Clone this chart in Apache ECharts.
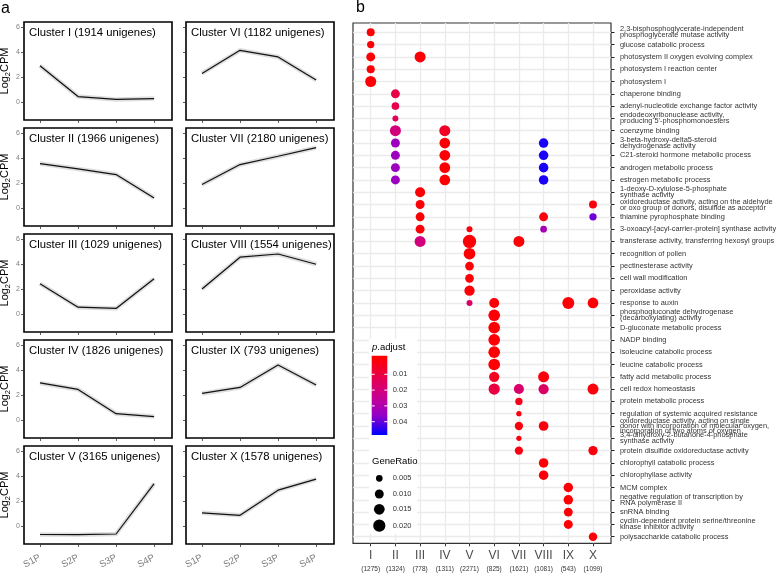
<!DOCTYPE html>
<html><head><meta charset="utf-8">
<script src="https://cdn.jsdelivr.net/npm/echarts@6/dist/echarts.min.js"></script>
<style>html,body{margin:0;padding:0;background:#fff}#c{width:779px;height:574px}</style>
</head><body><div id="c"></div>
<script>
// ---------- data: panel a ----------
const clusterNames = ['I','II','III','IV','V','VI','VII','VIII','IX','X'];
const clusterUnigenes = [1914,1966,1029,1826,3165,1182,2180,1554,793,1578];
const timePoints = ['S1P','S2P','S3P','S4P'];
const exprI    = [2.90, 0.43, 0.20, 0.27];
const exprII   = [3.55, 3.12, 2.67, 0.80];
const exprIII  = [2.42, 0.54, 0.44, 2.82];
const exprIV   = [2.96, 2.44, 0.50, 0.27];
const exprV    = [-0.69, -0.70, -0.65, 3.38];
const exprVI   = [2.28, 4.13, 3.60, 1.75];
const exprVII  = [1.88, 3.47, 4.14, 4.83];
const exprVIII = [2.00, 4.54, 4.80, 3.98];
const exprIX   = [2.12, 2.60, 4.40, 2.80];
const exprX    = [1.05, 0.85, 2.86, 3.75];
const yTickValues = [0, 2, 4, 6];

// ---------- data: panel b ----------
const enrichCounts = [1275,1324,778,1311,2271,825,1621,1081,543,1099];
const goTerms = [
 '2,3-bisphosphoglycerate-independent\nphosphoglycerate mutase activity',
 'glucose catabolic process',
 'photosystem II oxygen evolving complex',
 'photosystem I reaction center',
 'photosystem I',
 'chaperone binding',
 'adenyl-nucleotide exchange factor activity',
 "endodeoxyribonuclease activity,\nproducing 5'-phosphomonoesters",
 'coenzyme binding',
 '3-beta-hydroxy-delta5-steroid\ndehydrogenase activity',
 'C21-steroid hormone metabolic process',
 'androgen metabolic process',
 'estrogen metabolic process',
 '1-deoxy-D-xylulose-5-phosphate\nsynthase activity',
 'oxidoreductase activity, acting on the aldehyde\nor oxo group of donors, disulfide as acceptor',
 'thiamine pyrophosphate binding',
 '3-oxoacyl-[acyl-carrier-protein] synthase activity',
 'transferase activity, transferring hexosyl groups',
 'recognition of pollen',
 'pectinesterase activity',
 'cell wall modification',
 'peroxidase activity',
 'response to auxin',
 'phosphogluconate dehydrogenase\n(decarboxylating) activity',
 'D-gluconate metabolic process',
 'NADP binding',
 'isoleucine catabolic process',
 'leucine catabolic process',
 'fatty acid metabolic process',
 'cell redox homeostasis',
 'protein metabolic process',
 'regulation of systemic acquired resistance',
 'oxidoreductase activity, acting on single\ndonor with incorporation of molecular oxygen,\nincorporation of two atoms of oxygen',
 '3,4-dihydroxy-2-butanone-4-phosphate\nsynthase activity',
 'protein disulfide oxidoreductase activity',
 'chlorophyll catabolic process',
 'chlorophyllase activity',
 'MCM complex',
 'negative regulation of transcription by\nRNA polymerase II',
 'snRNA binding',
 'cyclin-dependent protein serine/threonine\nkinase inhibitor activity',
 'polysaccharide catabolic process'
];
const dotRow = [0,1,2,2,3,4,5,6,7,8,8,9,9,9,10,10,10,11,11,11,12,12,12,13,14,14,15,15,15,16,16,16,17,17,17,18,19,20,21,22,22,22,22,23,24,25,26,27,28,28,29,29,29,29,30,31,32,32,33,34,34,35,36,37,38,39,40,41];
const dotCluster = [0,0,0,2,0,0,1,1,1,1,3,1,3,7,1,3,7,1,3,7,1,3,7,2,2,9,2,7,9,2,4,7,2,4,6,4,4,4,4,4,5,8,9,5,5,5,5,5,5,7,5,6,7,9,6,6,6,7,6,6,9,7,7,8,8,8,8,9];
const dotGeneRatio = [0.0077,0.0062,0.0100,0.0159,0.0080,0.0159,0.0100,0.0070,0.0037,0.0159,0.0159,0.0100,0.0150,0.0115,0.0100,0.0150,0.0115,0.0100,0.0150,0.0115,0.0100,0.0150,0.0115,0.0129,0.0100,0.0077,0.0100,0.0100,0.0062,0.0100,0.0037,0.0050,0.0159,0.0240,0.0159,0.0180,0.0094,0.0094,0.0137,0.0037,0.0129,0.0191,0.0150,0.0180,0.0180,0.0180,0.0180,0.0180,0.0137,0.0159,0.0168,0.0129,0.0137,0.0159,0.0062,0.0026,0.0084,0.0120,0.0026,0.0084,0.0110,0.0115,0.0115,0.0115,0.0115,0.0100,0.0100,0.0090];
const dotPadj = [0.001,0.001,0.001,0.001,0.001,0.001,0.011,0.012,0.014,0.020,0.006,0.034,0.001,0.046,0.034,0.001,0.046,0.034,0.001,0.046,0.034,0.001,0.046,0.001,0.001,0.002,0.001,0.002,0.039,0.001,0.002,0.032,0.020,0.001,0.001,0.001,0.001,0.001,0.001,0.017,0.001,0.001,0.001,0.001,0.001,0.001,0.001,0.001,0.005,0.002,0.010,0.017,0.016,0.002,0.004,0.002,0.002,0.002,0.002,0.003,0.002,0.001,0.001,0.001,0.001,0.001,0.001,0.001];
const padjTicks = [0.01, 0.02, 0.03, 0.04];
const ratioTicks = [0.005, 0.010, 0.015, 0.020];

// ---------- layout / style ----------
const FONT = '"Liberation Sans", Arial, sans-serif';
const exprAll = [exprI,exprII,exprIII,exprIV,exprV,exprVI,exprVII,exprVIII,exprIX,exprX];
const colX = [24, 186], rowY = [22, 128, 234, 340, 446], PW = 148, PH = 98;
const padjColors = ['#ff0000','#e6004d','#c80090','#9400c8','#0000ff'];
const padjMax = 0.048;
const sizeOf = r => Math.sqrt(10 + 7000 * r);

const grids = [], xAxes = [], yAxes = [], series = [], graphics = [];
for (let k = 0; k < 10; k++) {
  const col = k < 5 ? 0 : 1, row = k % 5;
  const left = colX[col], top = rowY[row];
  grids.push({left, top, width: PW, height: PH, show: true, borderColor: '#000', borderWidth: 1.6,
    backgroundColor: '#fff', outerBoundsMode: 'none'});
  xAxes.push({gridIndex: k, type: 'value', min: 0.58, max: 4.47,
    axisLine: {show: false, onZero: false}, splitLine: {show: false},
    axisTick: {show: true, length: 3, lineStyle: {color: '#333', width: 0.8}, customValues: [1,2,3,4]},
    axisLabel: {show: row === 4, customValues: [1,2,3,4], formatter: v => timePoints[v - 1],
      rotate: 28, margin: 13, color: '#7f7f7f', fontSize: 9.5, fontFamily: FONT}});
  yAxes.push({gridIndex: k, type: 'value', min: -1.45, max: 6.4,
    axisLine: {show: false, onZero: false}, splitLine: {show: false},
    axisTick: {show: true, length: 3, lineStyle: {color: '#333', width: 0.8}, customValues: yTickValues},
    axisLabel: {show: col === 0, customValues: yTickValues, color: '#7f7f7f', fontSize: 7, margin: 4, fontFamily: FONT},
    name: col === 0 ? '{a|Log}{s|2}{a|CPM}' : '', nameLocation: 'middle', nameRotate: 90, nameGap: 12,
    nameTextStyle: {rich: {a: {fontSize: 11, fontFamily: FONT, color: '#000', lineHeight: 12},
      s: {fontSize: 7.5, fontFamily: FONT, color: '#000', lineHeight: 12, padding: [7, 0, 0, 0]}}}});
  const pts = exprAll[k].map((v, i) => [i + 1, v]);
  series.push({type: 'line', xAxisIndex: k, yAxisIndex: k, data: pts, showSymbol: false, silent: true,
    lineStyle: {color: 'rgba(0,0,0,0.13)', width: 4.5}, z: 2});
  series.push({type: 'line', xAxisIndex: k, yAxisIndex: k, data: pts, showSymbol: false, silent: true,
    lineStyle: {color: '#111', width: 1.2}, z: 3});
  graphics.push({type: 'text', x: left + 5, y: top + 10.5, z: 100,
    style: {text: 'Cluster ' + clusterNames[k] + ' (' + clusterUnigenes[k] + ' unigenes)',
      font: '11.3px ' + FONT, fill: '#000', verticalAlign: 'middle'}});
}

// dot plot
const DB = {left: 353, top: 23, right: 611, bottom: 543.3};
grids.push({left: DB.left, top: DB.top, width: DB.right - DB.left, height: DB.bottom - DB.top,
  show: true, borderColor: '#333', borderWidth: 1.2, backgroundColor: '#fff', outerBoundsMode: 'none'});
const colIdx = clusterNames.map((_, i) => i);
const rowIdx = goTerms.map((_, i) => i);
xAxes.push({gridIndex: 10, type: 'value', min: -0.717, max: 9.729, position: 'bottom',
  axisLine: {show: false, onZero: false},
  splitLine: {show: true, lineStyle: {color: '#ebebeb', width: 1.3}},
  axisTick: {show: true, length: 3, lineStyle: {color: '#333'}, customValues: colIdx},
  axisLabel: {customValues: colIdx, margin: 4,
    formatter: v => '{a|' + clusterNames[v] + '}\n{b|(' + enrichCounts[v] + ')}',
    rich: {a: {fontSize: 12, color: '#4d4d4d', fontFamily: FONT, lineHeight: 16},
           b: {fontSize: 6.5, color: '#333', fontFamily: FONT, lineHeight: 12}}}});
yAxes.push({gridIndex: 10, type: 'value', inverse: true, min: -0.756, max: 41.536, position: 'right',
  axisLine: {show: false, onZero: false},
  splitLine: {show: true, lineStyle: {color: '#ebebeb', width: 1.3}},
  axisTick: {show: true, length: 3.5, lineStyle: {color: '#222'}, customValues: rowIdx},
  axisLabel: {customValues: rowIdx, margin: 9, color: '#333', fontSize: 7.4, fontFamily: FONT, lineHeight: 6,
    formatter: v => {
      const t = goTerms[v];
      return t.split('\n').length > 2 ? '{t3|' + t.replace(/\n/g, '}\n{t3|') + '}' : t;
    },
    rich: {t3: {fontSize: 7.4, color: '#333', fontFamily: FONT, lineHeight: 4.8}}}});
series.push({type: 'scatter', xAxisIndex: 10, yAxisIndex: 10, silent: true, z: 5,
  data: dotRow.map((r, i) => [dotCluster[i], r, dotGeneRatio[i], dotPadj[i]]),
  symbolSize: v => sizeOf(v[2]), itemStyle: {opacity: 1}});

// legends (panel b)
const LX = 371.7, LW = 15.6, LT = 355.7, LB = 435, y0 = 358.5, perUnit = 1580;
graphics.push({type: 'rect', z: 90, shape: {x: 369, y: 339, width: 48, height: 195}, style: {fill: '#fff'}});
graphics.push({type: 'text', x: 372, y: 347, z: 100, style: {text: '{i|p}.adjust', font: '9.5px ' + FONT, fill: '#000',
  verticalAlign: 'middle', rich: {i: {fontStyle: 'italic', fontSize: 9.5, fontFamily: FONT}}}});
graphics.push({type: 'rect', z: 100, shape: {x: LX, y: LT, width: LW, height: LB - LT},
  style: {fill: new echarts.graphic.LinearGradient(0, 0, 0, 1,
    padjColors.map((c, i) => ({offset: (y0 + perUnit * padjMax * i / 4 - LT) / (LB - LT), color: c})))}});
padjTicks.forEach(p => {
  const y = y0 + perUnit * p;
  graphics.push({type: 'line', z: 101, shape: {x1: LX, y1: y, x2: LX + 3, y2: y}, style: {stroke: '#fff', lineWidth: 1}});
  graphics.push({type: 'line', z: 101, shape: {x1: LX + LW - 3, y1: y, x2: LX + LW, y2: y}, style: {stroke: '#fff', lineWidth: 1}});
  graphics.push({type: 'text', z: 100, x: 392.7, y: y, style: {text: p.toFixed(2), font: '7.5px ' + FONT, fill: '#333', verticalAlign: 'middle'}});
});
graphics.push({type: 'text', z: 100, x: 372, y: 461, style: {text: 'GeneRatio', font: '9.5px ' + FONT, fill: '#000', verticalAlign: 'middle'}});
const ratioY = [478.3, 494, 509.3, 525.7];
ratioTicks.forEach((r, i) => {
  graphics.push({type: 'circle', z: 100, shape: {cx: 379.3, cy: ratioY[i], r: sizeOf(r) / 2}, style: {fill: '#000'}});
  graphics.push({type: 'text', z: 100, x: 392.7, y: ratioY[i], style: {text: r.toFixed(3), font: '7.5px ' + FONT, fill: '#333', verticalAlign: 'middle'}});
});
graphics.push({type: 'text', z: 100, x: 1, y: 9, style: {text: 'a', font: '16px ' + FONT, fill: '#000', verticalAlign: 'middle'}});
graphics.push({type: 'text', z: 100, x: 356, y: 8, style: {text: 'b', font: '16px ' + FONT, fill: '#000', verticalAlign: 'middle'}});

const chart = echarts.init(document.getElementById('c'), null, {renderer: 'canvas'});
chart.setOption({
  animation: false,
  backgroundColor: '#fff',
  grid: grids, xAxis: xAxes, yAxis: yAxes, series: series,
  visualMap: {show: false, type: 'continuous', dimension: 3, seriesIndex: series.length - 1,
    min: 0, max: padjMax, inRange: {color: padjColors}},
  graphic: graphics
});
</script></body></html>
